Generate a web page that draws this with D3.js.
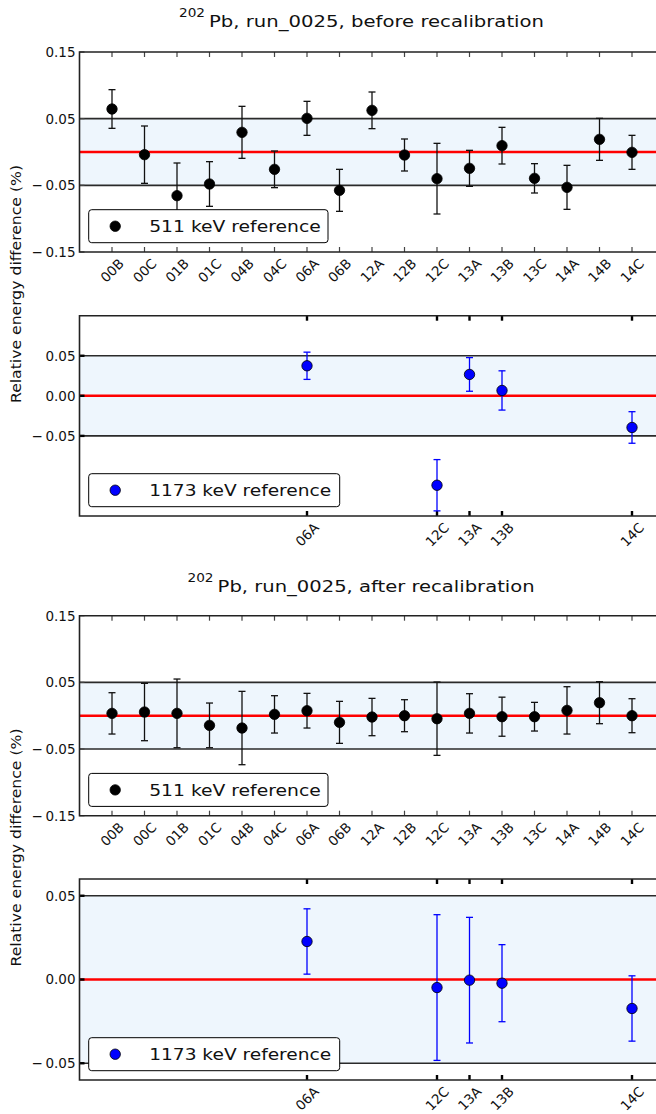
<!DOCTYPE html>
<html>
<head>
<meta charset="utf-8">
<script src="https://cdn.jsdelivr.net/npm/d3@7"></script>
<style>
  html, body { margin: 0; padding: 0; background: #fff; }
  svg { display: block; }
  text { font-family: "DejaVu Sans", sans-serif; fill: #111; }
</style>
</head>
<body>
<div id="wrapper"></div>
<script>
// Data
const categories = ["00B", "00C", "01B", "01C", "04B", "04C", "06A", "06B", "12A",
  "12B", "12C", "13A", "13B", "13C", "14A", "14B", "14C"];

const before511 = [0.0645, -0.004, -0.0655, -0.048, 0.0295, -0.026, 0.0505, -0.0575, 0.0625,
  -0.0045, -0.040, -0.0245, 0.0095, -0.0395, -0.053, 0.019, -0.0005];
const before511Err = [0.029, 0.043, 0.049, 0.0335, 0.039, 0.0275, 0.0255, 0.0315, 0.0275,
  0.024, 0.053, 0.027, 0.0275, 0.022, 0.033, 0.0315, 0.0255];

const cats1173 = ["06A", "12C", "13A", "13B", "14C"];
const before1173 = [0.0375, -0.1116, 0.0267, 0.0067, -0.0395];
const before1173Err = [0.017, 0.032, 0.021, 0.0245, 0.0197];

const after511 = [0.0035, 0.0055, 0.0035, -0.0145, -0.0185, 0.002, 0.0075, -0.010, -0.002,
  0.0, -0.0045, 0.0035, -0.0015, -0.0015, 0.008, 0.0195, 0.0];
const after511Err = [0.031, 0.043, 0.0515, 0.0335, 0.055, 0.028, 0.026, 0.0315, 0.028,
  0.024, 0.055, 0.0295, 0.0293, 0.0215, 0.0355, 0.0315, 0.0255];

const after1173 = [0.0227, -0.0048, -0.0004, -0.0022, -0.0173];
const after1173Err = [0.0195, 0.0435, 0.0375, 0.023, 0.0195];

const ticksWide = [-0.15, -0.05, 0.05, 0.15];
const ticksNarrow = [-0.05, 0.0, 0.05];
const bandLimits = [-0.05, 0.05];

// Dimensions
const width = 656;
const height = 1114;
const plotLeft = 79.5;
const plotRight = 664.5;

const svg = d3.select("#wrapper")
  .append("svg")
    .attr("width", width)
    .attr("height", height);

const xScale = d3.scalePoint()
  .domain(categories)
  .range([plotLeft, plotRight])
  .padding(1);

const fmt = v => {
  const s = d3.format(".2f")(Math.abs(v));
  return v < 0 ? "\u2212\u2009" + s : s;
};

function drawPanel(opt) {
  const yScale = d3.scaleLinear()
    .domain(opt.domain)
    .range([opt.bottom, opt.top]);

  const g = svg.append("g");

  // band
  g.append("rect")
    .attr("x", plotLeft)
    .attr("y", yScale(bandLimits[1]))
    .attr("width", plotRight - plotLeft)
    .attr("height", yScale(bandLimits[0]) - yScale(bandLimits[1]))
    .attr("fill", "#eef6fd");

  g.selectAll(".band")
    .data(bandLimits)
    .join("line")
      .attr("x1", plotLeft).attr("x2", plotRight)
      .attr("y1", d => yScale(d)).attr("y2", d => yScale(d))
      .attr("stroke", "#2a2a2a")
      .attr("stroke-width", 1.6);

  g.append("line")
    .attr("x1", plotLeft).attr("x2", plotRight)
    .attr("y1", yScale(0)).attr("y2", yScale(0))
    .attr("stroke", "#ff0000")
    .attr("stroke-width", 2.6);

  // x ticks (inward, top and bottom)
  const heavy = opt.heavyTicks;
  const tickCats = opt.tickCats;
  [opt.top, opt.bottom].forEach((yy, i) => {
    g.selectAll(null)
      .data(tickCats)
      .join("line")
        .attr("x1", d => xScale(d)).attr("x2", d => xScale(d))
        .attr("y1", yy).attr("y2", i === 0 ? yy + 5 : yy - 5)
        .attr("stroke", heavy ? "#000" : "#444")
        .attr("stroke-width", heavy ? 2.4 : 1.2);
  });

  // y ticks
  g.selectAll(null)
    .data(opt.yTicks)
    .join("line")
      .attr("x1", plotLeft).attr("x2", plotLeft + 5)
      .attr("y1", d => yScale(d)).attr("y2", d => yScale(d))
      .attr("stroke", heavy ? "#000" : "#444")
      .attr("stroke-width", heavy ? 2.4 : 1.2);

  g.selectAll(null)
    .data(opt.yTicks)
    .join("text")
      .attr("x", plotLeft - 4)
      .attr("y", d => yScale(d))
      .attr("dy", "0.36em")
      .attr("text-anchor", "end")
      .attr("font-size", 13.5)
      .text(d => fmt(d));

  // x tick labels rotated 45
  const labels = g.selectAll(null)
    .data(tickCats)
    .join("text")
      .attr("text-anchor", "middle")
      .attr("dominant-baseline", "central")
      .attr("font-size", 13.5)
      .text(d => d);
  labels.each(function(d) {
    const w = this.getComputedTextLength();
    const h = (w + 10) / Math.SQRT2;
    d3.select(this).attr("transform",
      `translate(${xScale(d)},${opt.bottom + 5.5 + h / 2}) rotate(-45)`);
  });

  // error bars
  const pts = opt.cats.map((c, i) => ({ c, v: opt.values[i], e: opt.errs[i] }));
  const eb = g.selectAll(".eb")
    .data(pts)
    .join("g")
      .attr("stroke", opt.barColor)
      .attr("stroke-width", 1.3);
  eb.append("line")
    .attr("x1", d => xScale(d.c)).attr("x2", d => xScale(d.c))
    .attr("y1", d => yScale(d.v - d.e)).attr("y2", d => yScale(d.v + d.e));
  [-1, 1].forEach(s => {
    eb.append("line")
      .attr("x1", d => xScale(d.c) - 3.5).attr("x2", d => xScale(d.c) + 3.5)
      .attr("y1", d => yScale(d.v + s * d.e)).attr("y2", d => yScale(d.v + s * d.e));
  });

  g.selectAll(".pt")
    .data(pts)
    .join("circle")
      .attr("cx", d => xScale(d.c))
      .attr("cy", d => yScale(d.v))
      .attr("r", 5.2)
      .attr("fill", opt.fill)
      .attr("stroke", "#000")
      .attr("stroke-width", 0.8);

  // legend
  const lg = g.append("g")
    .attr("transform", `translate(${plotLeft + 9.2},${opt.bottom - 9.3 - 33})`);
  lg.append("rect")
    .attr("width", opt.legendW)
    .attr("height", 33)
    .attr("rx", 3)
    .attr("fill", "#fff")
    .attr("stroke", "#000")
    .attr("stroke-width", 1);
  lg.append("circle")
    .attr("cx", 26.5).attr("cy", 16.5).attr("r", 5.2)
    .attr("fill", opt.fill).attr("stroke", "#000").attr("stroke-width", 0.8);
  lg.append("text")
    .attr("x", 60.5)
    .attr("y", 22.5)
    .attr("font-size", 16)
    .attr("textLength", opt.legendTextW)
    .attr("lengthAdjust", "spacingAndGlyphs")
    .text(opt.legendText);

  // spines
  g.append("path")
    .attr("d", `M${plotRight},${opt.top}H${plotLeft}V${opt.bottom}H${plotRight}`)
    .attr("fill", "none")
    .attr("stroke", "#222")
    .attr("stroke-width", 1.6);
}

function drawTitle(text, supX, mainX, baseline, mainW) {
  svg.append("text")
    .attr("x", supX).attr("y", baseline - 10)
    .attr("font-size", 12)
    .attr("textLength", 26)
    .attr("lengthAdjust", "spacingAndGlyphs")
    .text("202");
  svg.append("text")
    .attr("x", mainX).attr("y", baseline)
    .attr("font-size", 16.5)
    .attr("textLength", mainW)
    .attr("lengthAdjust", "spacingAndGlyphs")
    .text(text);
}

function drawYLabel(cy) {
  svg.append("text")
    .attr("transform", `translate(21,${cy}) rotate(-90)`)
    .attr("text-anchor", "middle")
    .attr("font-size", 14)
    .attr("textLength", 238)
    .attr("lengthAdjust", "spacingAndGlyphs")
    .text("Relative energy difference (%)");
}

drawTitle("Pb, run_0025, before recalibration", 179, 209, 27, 335);
drawTitle("Pb, run_0025, after recalibration", 187.5, 217.6, 591.5, 317);
drawYLabel(284);
drawYLabel(847.5);

drawPanel({
  top: 52, bottom: 252, domain: [-0.15, 0.15], yTicks: ticksWide,
  cats: categories, values: before511, errs: before511Err, tickCats: categories,
  fill: "#000", barColor: "#111", heavyTicks: false,
  legendText: "511 keV reference", legendW: 239.3, legendTextW: 171.5
});
drawPanel({
  top: 315.7, bottom: 516, domain: [-0.15, 0.10], yTicks: ticksNarrow,
  cats: cats1173, values: before1173, errs: before1173Err, tickCats: cats1173,
  fill: "#0000ff", barColor: "#0000ff", heavyTicks: true,
  legendText: "1173 keV reference", legendW: 251, legendTextW: 182
});
drawPanel({
  top: 615.7, bottom: 815.7, domain: [-0.15, 0.15], yTicks: ticksWide,
  cats: categories, values: after511, errs: after511Err, tickCats: categories,
  fill: "#000", barColor: "#111", heavyTicks: false,
  legendText: "511 keV reference", legendW: 239.3, legendTextW: 171.5
});
drawPanel({
  top: 879, bottom: 1080, domain: [-0.06, 0.06], yTicks: ticksNarrow,
  cats: cats1173, values: after1173, errs: after1173Err, tickCats: cats1173,
  fill: "#0000ff", barColor: "#0000ff", heavyTicks: true,
  legendText: "1173 keV reference", legendW: 251, legendTextW: 182
});
</script>
</body>
</html>
